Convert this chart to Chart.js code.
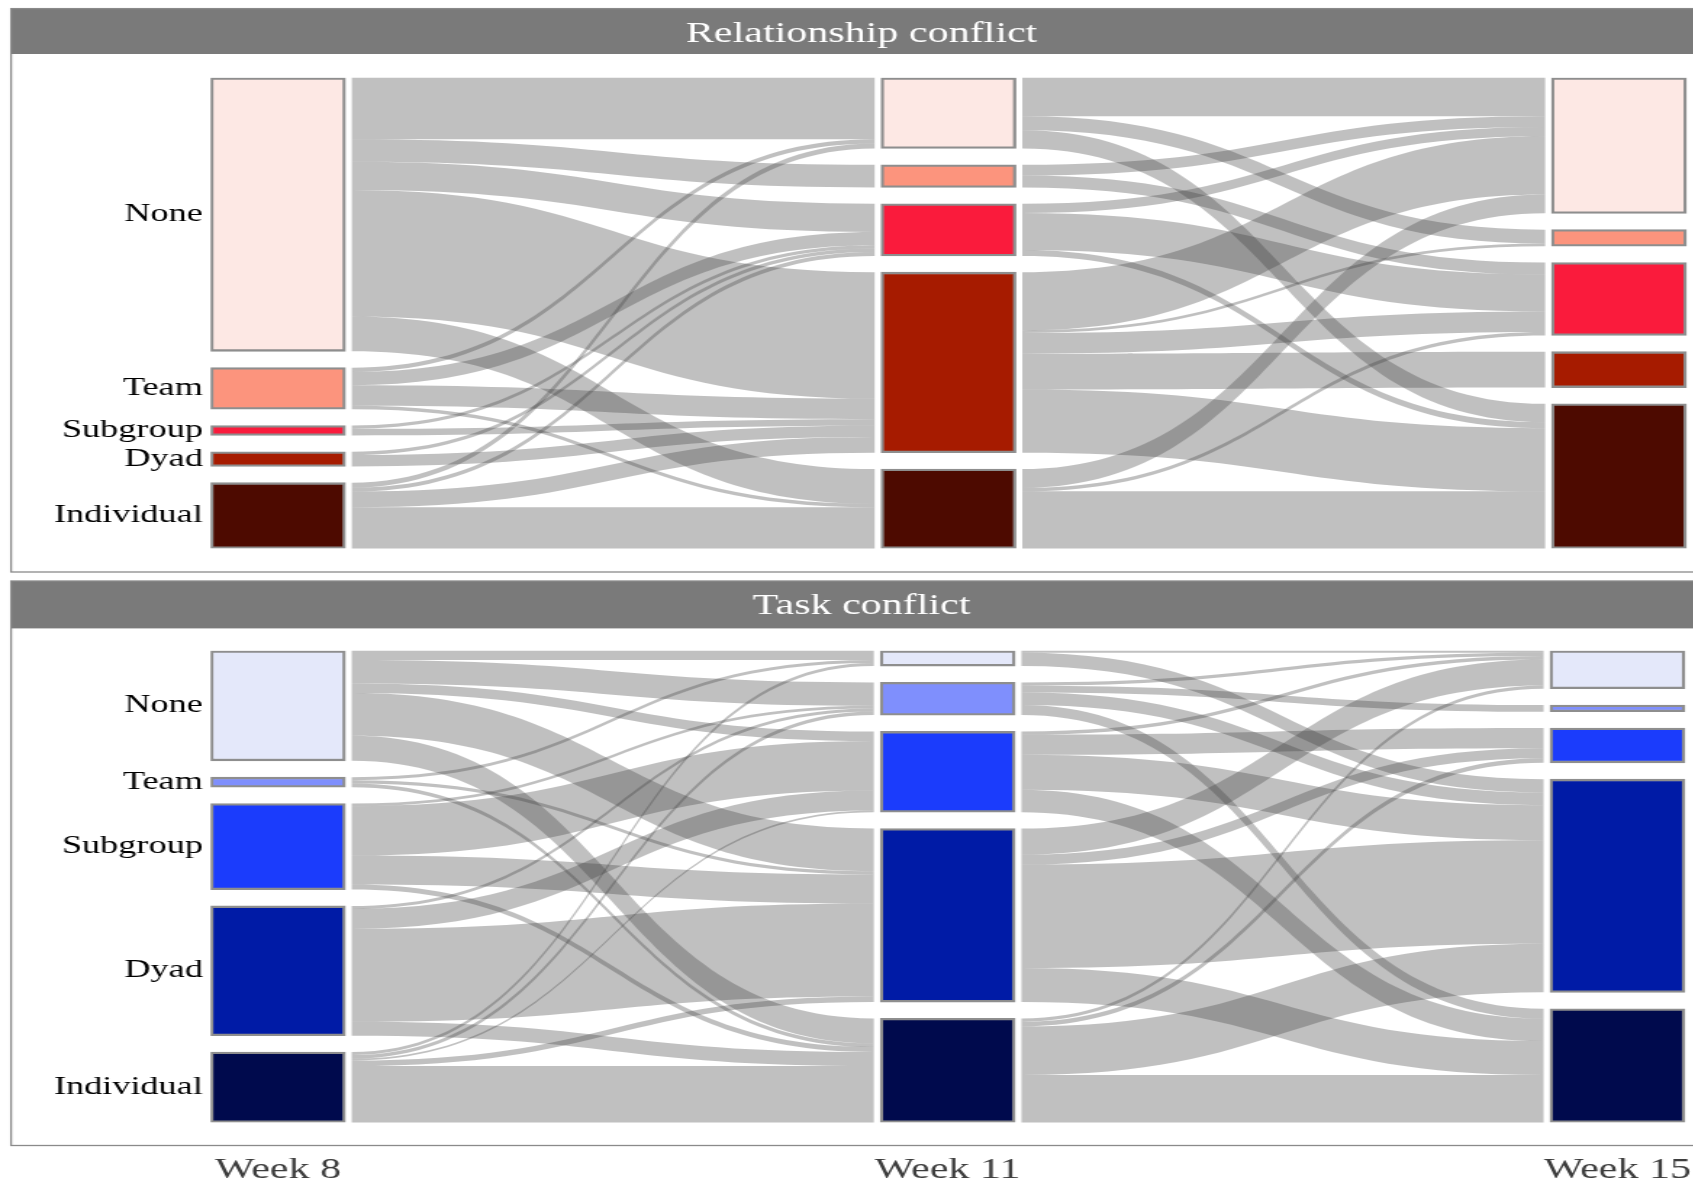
<!DOCTYPE html>
<html>
<head>
<meta charset="utf-8">
<script src="https://cdn.jsdelivr.net/npm/chart.js@4.4.1/dist/chart.umd.min.js"></script>
<style>
html,body{margin:0;padding:0;background:#ffffff;overflow:hidden;width:1693px;height:1185px;}
#wrap{position:relative;width:1693px;height:1185px;overflow:hidden;background:#fff;}
canvas{position:absolute;left:0;}
</style>
</head>
<body>
<div id="wrap">
<canvas id="c1" width="1200" height="576" style="top:0px;width:1740px;height:576px;"></canvas>
<canvas id="c2" width="1200" height="609" style="top:576px;width:1740px;height:609px;"></canvas>
</div>
<script>
// ---------------- data ----------------
const weeks = ['Week 8', 'Week 11', 'Week 15'];
const weekPos = [0, 1, 2];
const strata = ['None', 'Team', 'Subgroup', 'Dyad', 'Individual'];
const panelTitles = ['Relationship conflict', 'Task conflict'];
const relColors = ['#fde8e4', '#fc947d', '#fa1b3c', '#a61b00', '#4d0a00'];
const taskColors = ['#e4e8fa', '#7f8ffd', '#1b3cfc', '#001ba6', '#000a4d'];

// flow sizes: rows = stratum at earlier week, columns = stratum at later week
const relWeek8to11 = [
  [185, 68, 85, 380, 105],
  [13, 0, 40, 62, 10],
  [0, 0, 10, 20, 0],
  [0, 0, 10, 34, 0],
  [15, 0, 12, 47, 124]
];
const relWeek11to15 = [
  [116, 42, 0, 0, 55],
  [32, 0, 36, 0, 0],
  [28, 0, 111, 0, 18],
  [175, 8, 62, 108, 190],
  [57, 0, 10, 0, 172]
];
const taskWeek8to11 = [
  [28, 70, 29, 128, 75],
  [9, 0, 0, 10, 11],
  [0, 8, 148, 87, 15],
  [0, 9, 60, 278, 42],
  [9, 11, 5, 17, 169]
];
const taskWeek11to15 = [
  [6, 0, 0, 40, 0],
  [10, 20, 0, 38, 30],
  [10, 0, 60, 105, 67],
  [78, 0, 30, 310, 102],
  [10, 0, 14, 146, 142]
];

// ---------------- layout constants (styling) ----------------
const GAP = 49;          // vertical gap between strata, in data units
const BAR_W = 93;        // bar thickness (canvas px, before horizontal stretch)
const FLOW_GAP = 4.4;    // gap between bar edge and flow
const X_MIN = -0.1006, X_MAX = 2.1555;
const AXIS_W = 145.2;
const FONT = "'Liberation Serif', 'Times New Roman', serif";

Chart.defaults.font.family = FONT;

function sumRows(m) { return m.map(r => r.reduce((a, b) => a + b, 0)); }
function sumCols(m) { return m[0].map((_, j) => m.reduce((a, r) => a + r[j], 0)); }
function stackTops(sizes) { const t = []; let c = 0; sizes.forEach(s => { t.push(c); c += s + GAP; }); return t; }

function makePanel(id, titleText, colors, m1, m2, geo) {
  const mats = [m1, m2];
  const sizes = [sumRows(m1), sumCols(m1), sumCols(m2)];
  const tops = sizes.map(s => stackTops(s));
  const total = sizes[0].reduce((a, b) => a + b, 0) + GAP * (strata.length - 1);
  const centers = tops[0].map((t, i) => t + sizes[0][i] / 2);

  const datasets = strata.map((name, i) => ({
    label: name,
    data: weekPos.map((w, k) => ({ x: w, y: [tops[k][i], tops[k][i] + sizes[k][i]] })),
    backgroundColor: colors[i],
    borderColor: '#8e8e8e',
    borderWidth: 2.3,
    borderSkipped: false,
    barThickness: BAR_W,
    grouped: false
  }));

  const flowPlugin = {
    id: 'flows_' + id,
    beforeDatasetsDraw(chart) {
      const ctx = chart.ctx, xs = chart.scales.x, ys = chart.scales.y;
      ctx.save();
      ctx.fillStyle = 'rgba(64,64,64,0.33)';
      for (let t = 0; t < 2; t++) {
        const m = mats[t];
        const xa = xs.getPixelForValue(weekPos[t]) + BAR_W / 2 + FLOW_GAP;
        const xb = xs.getPixelForValue(weekPos[t + 1]) - BAR_W / 2 - FLOW_GAP;
        const xm = (xa + xb) / 2;
        const n = strata.length;
        const outStart = [], inStart = [];
        for (let i = 0; i < n; i++) {
          outStart.push([]);
          let c = tops[t][i];
          for (let j = 0; j < n; j++) { outStart[i].push(c); c += m[i][j]; }
        }
        for (let i = 0; i < n; i++) inStart.push([]);
        for (let j = 0; j < n; j++) {
          let c = tops[t + 1][j];
          for (let i = 0; i < n; i++) { inStart[i][j] = c; c += m[i][j]; }
        }
        for (let i = 0; i < n; i++) {
          for (let j = 0; j < n; j++) {
            const v = m[i][j];
            if (!v) continue;
            const a0 = ys.getPixelForValue(outStart[i][j]);
            const a1 = ys.getPixelForValue(outStart[i][j] + v);
            const b0 = ys.getPixelForValue(inStart[i][j]);
            const b1 = ys.getPixelForValue(inStart[i][j] + v);
            ctx.beginPath();
            ctx.moveTo(xa, a0);
            ctx.bezierCurveTo(xm, a0, xm, b0, xb, b0);
            ctx.lineTo(xb, b1);
            ctx.bezierCurveTo(xm, b1, xm, a1, xa, a1);
            ctx.closePath();
            ctx.fill();
          }
        }
      }
      ctx.restore();
    }
  };

  const decorPlugin = {
    id: 'decor_' + id,
    beforeDraw(chart) {
      const c = chart.ctx;
      c.save();
      c.fillStyle = '#7a7a7a';
      c.fillRect(geo.pl, geo.st, geo.pr - geo.pl, geo.sb - geo.st);
      c.restore();
    },
    afterDraw(chart) {
      const c = chart.ctx;
      c.save();
      c.strokeStyle = '#8a8a8a';
      c.lineWidth = 1.3;
      c.strokeRect(geo.pl, geo.st, geo.pr - geo.pl, geo.pb - geo.st);
      c.restore();
    }
  };

  return new Chart(document.getElementById(id), {
    type: 'bar',
    data: { datasets },
    options: {
      responsive: false,
      maintainAspectRatio: false,
      devicePixelRatio: 1,
      animation: false,
      events: [],
      layout: { padding: { left: 0, right: 11.6, top: 0, bottom: geo.padBottom } },
      plugins: {
        legend: { display: false },
        tooltip: { enabled: false },
        title: {
          display: true,
          text: titleText,
          color: '#ffffff',
          font: { family: FONT, size: 29, weight: 'normal', lineHeight: 1 },
          padding: { top: geo.titleTop, bottom: geo.titleBottom }
        }
      },
      scales: {
        x: {
          type: 'linear',
          min: X_MIN, max: X_MAX,
          bounds: 'data',
          offset: false,
          display: geo.showX,
          grid: { display: false, drawTicks: false },
          border: { display: false },
          ticks: {
            autoSkip: false,
            padding: 33,
            color: '#3d3d3d',
            font: { family: FONT, size: 29, lineHeight: 1 },
            callback: (v, i) => weeks[i]
          },
          afterBuildTicks: ax => { ax.ticks = weekPos.map(v => ({ value: v })); },
          afterFit: ax => { ax.height = geo.xAxisH; }
        },
        y: {
          type: 'linear',
          reverse: true,
          min: 0, max: total,
          bounds: 'data',
          grid: { display: false, drawTicks: false },
          border: { display: false },
          ticks: {
            autoSkip: false,
            padding: 5.3,
            color: '#000000',
            font: { family: FONT, size: 25 },
            callback: (v, i) => strata[i]
          },
          afterBuildTicks: ax => { ax.ticks = centers.map(v => ({ value: v })); },
          afterFit: ax => { ax.width = AXIS_W; }
        }
      }
    },
    plugins: [decorPlugin, flowPlugin]
  });
}

makePanel('c1', panelTitles[0], relColors, relWeek8to11, relWeek11to15, {
  pl: 7.6, pr: 1180.7, st: 8.6, sb: 54, pb: 572,
  titleTop: 19.4, titleBottom: 29.3, padBottom: 27.5, showX: false, xAxisH: 0
});
makePanel('c2', panelTitles[1], taskColors, taskWeek8to11, taskWeek11to15, {
  pl: 7.6, pr: 1180.7, st: 5, sb: 52.4, pb: 569.5,
  titleTop: 15.5, titleBottom: 30.2, padBottom: 0, showX: true, xAxisH: 62.5
});
</script>
</body>
</html>
